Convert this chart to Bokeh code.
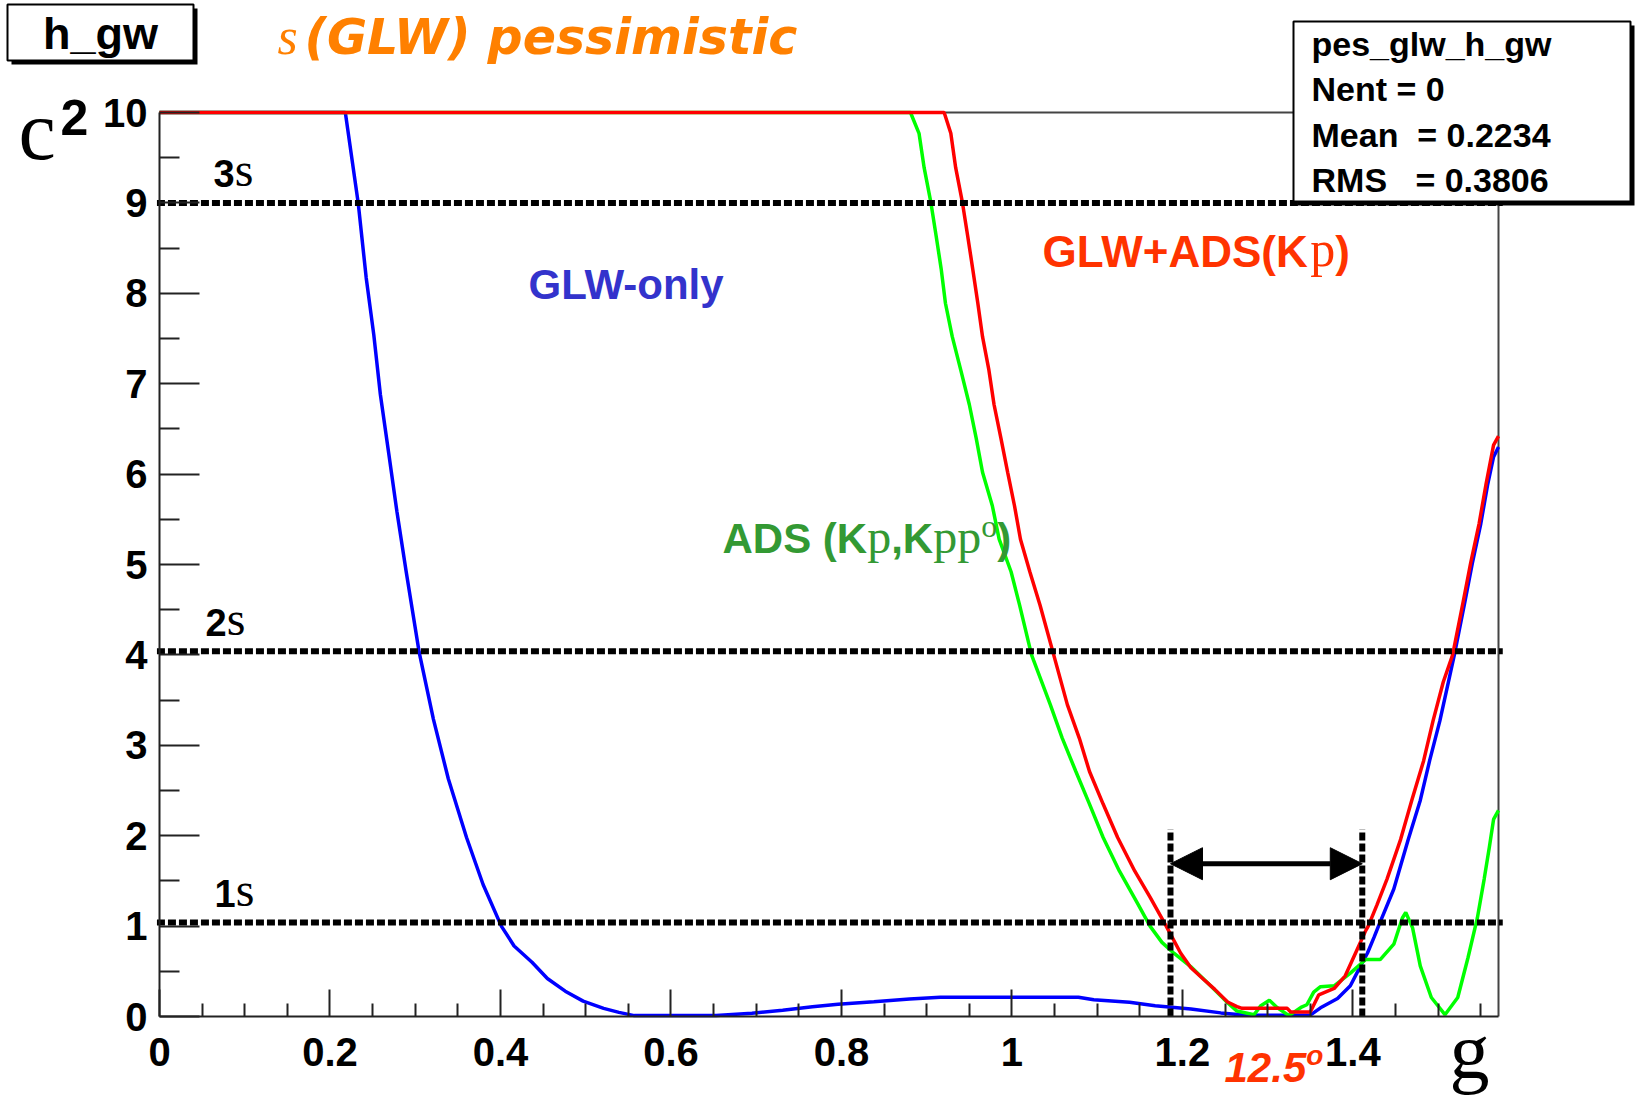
import numpy as np
from bokeh.plotting import figure
from bokeh.models import (Range1d, FixedTicker, CustomJSTickFormatter, Label,
                          BoxAnnotation, Arrow, NormalHead, LinearAxis)
from bokeh.embed import file_html
from bokeh.resources import INLINE

# ---------------- data ----------------
x_ticks = [0, 0.2, 0.4, 0.6, 0.8, 1.0, 1.2, 1.4]
y_ticks = [0, 1, 2, 3, 4, 5, 6, 7, 8, 9, 10]
x_max = np.pi / 2
y_max = 10

glw_only_x = [0, 0.218, 0.2331, 0.2425, 0.2514, 0.2591, 0.2689, 0.2786, 0.2894, 0.3046,
              0.3213, 0.3388, 0.3602, 0.3796, 0.401, 0.416, 0.437, 0.455, 0.476, 0.497,
              0.521, 0.539, 0.557, 0.653, 0.695, 0.731, 0.766, 0.796, 0.838, 0.880,
              0.916, 1.078, 1.096, 1.138, 1.168, 1.21, 1.245, 1.275, 1.35, 1.362,
              1.382, 1.397, 1.409, 1.417, 1.425, 1.430, 1.448, 1.465, 1.479, 1.490,
              1.502, 1.512, 1.519, 1.531, 1.540, 1.550, 1.558, 1.565, 1.5708]
glw_only_y = [10, 10, 9.0, 8.17, 7.54, 6.88, 6.23, 5.58, 4.92, 4.03,
              3.29, 2.63, 1.98, 1.46, 1.0, 0.78, 0.6, 0.42, 0.28, 0.17,
              0.09, 0.046, 0.01, 0.01, 0.036, 0.07, 0.107, 0.136, 0.164, 0.193,
              0.214, 0.214, 0.186, 0.157, 0.12, 0.082, 0.04, 0.015, 0.015, 0.096,
              0.2, 0.34, 0.56, 0.7, 0.88, 1.0, 1.41, 1.96, 2.39, 2.83,
              3.27, 3.70, 4.0, 4.57, 5.01, 5.45, 5.88, 6.19, 6.3]

ads_x = [0, 0.881, 0.891, 0.897, 0.905, 0.911, 0.917, 0.922, 0.930, 0.940,
         0.950, 0.958, 0.9655, 0.977, 0.985, 0.999, 1.009, 1.023, 1.045, 1.059,
         1.075, 1.091, 1.107, 1.126, 1.148, 1.162, 1.176, 1.19, 1.21, 1.233,
         1.251, 1.264, 1.284, 1.292, 1.302, 1.311, 1.325, 1.339, 1.346, 1.354,
         1.362, 1.378, 1.397, 1.415, 1.432, 1.448, 1.458, 1.462, 1.47, 1.479,
         1.492, 1.508, 1.523, 1.535, 1.546, 1.554, 1.560, 1.565, 1.5708]
ads_y = [10, 10, 9.77, 9.39, 9.0, 8.64, 8.27, 7.89, 7.52, 7.15,
         6.77, 6.4, 6.02, 5.65, 5.28, 4.92, 4.55, 4.0, 3.45, 3.08,
         2.71, 2.35, 1.98, 1.61, 1.24, 1.0, 0.82, 0.70, 0.55, 0.34,
         0.17, 0.06, 0.02, 0.12, 0.18, 0.1, 0.01, 0.1, 0.13, 0.27,
         0.33, 0.34, 0.48, 0.63, 0.63, 0.8, 1.09, 1.15, 0.98, 0.56,
         0.21, 0.02, 0.21, 0.65, 1.09, 1.52, 1.87, 2.18, 2.28]

comb_x = [0, 0.9205, 0.9283, 0.934, 0.942, 0.948, 0.954, 0.960, 0.9655, 0.973,
          0.979, 0.987, 0.995, 1.003, 1.010, 1.021, 1.033, 1.049, 1.065, 1.079,
          1.091, 1.107, 1.124, 1.144, 1.162, 1.181, 1.198, 1.21, 1.225, 1.238,
          1.253, 1.264, 1.27, 1.323, 1.327, 1.35, 1.36, 1.378, 1.391, 1.403,
          1.415, 1.418, 1.428, 1.440, 1.456, 1.469, 1.483, 1.494, 1.506, 1.517,
          1.529, 1.538, 1.548, 1.556, 1.565, 1.5708]
comb_y = [10, 10, 9.77, 9.39, 9.0, 8.64, 8.27, 7.89, 7.52, 7.15,
          6.77, 6.4, 6.02, 5.65, 5.28, 4.92, 4.55, 4.0, 3.45, 3.08,
          2.71, 2.35, 1.98, 1.61, 1.32, 1.0, 0.70, 0.54, 0.41, 0.3,
          0.16, 0.11, 0.09, 0.09, 0.05, 0.05, 0.24, 0.31, 0.45, 0.70,
          0.95, 1.0, 1.23, 1.52, 1.96, 2.39, 2.83, 3.27, 3.70, 4.0,
          4.57, 5.01, 5.45, 5.88, 6.32, 6.42]

sigma_levels = [1.04, 4.04, 9.0]
sigma_names = ["1", "2", "3"]
interval_x = [1.186, 1.411]
interval_top = 2.07
arrow_y = 1.69
interval_text = "12.5"

NB = "\u00a0"
stats_lines = ["pes_glw_h_gw", "Nent = 0", "Mean" + NB * 2 + "= 0.2234",
               "RMS" + NB * 3 + "= 0.3806"]
hist_name = "h_gw"

# ---------------- layout geometry (picture pixels) ----------------
CW, CH = 1637, 1099
FL, FT, FW, FH = 159.0, 112.0, 1339.0, 904.0
BASE_FIX = 0.35  # em shift of the alphabetic anchor


def dx(X):
    return (X - FL) / FW * x_max


def dy(Y):
    return (FT + FH - Y) / FH * y_max


SANS = {'A': 722, 'D': 722, 'S': 667, 'G': 778, 'L': 611, 'W': 944, 'K': 722,
        '(': 333, ')': 333, ' ': 278, '+': 584, ',': 278, '-': 333, 'o': 611,
        'n': 611, 'l': 278, 'y': 556, '.': 278}
for d in "0123456789":
    SANS[d] = 556
SERIF = {'p': 500, 's': 389, 'o': 500, 'c': 444, 'g': 500}

p = figure(width=CW, height=CH,
           x_range=Range1d(dx(0), dx(CW)), y_range=Range1d(dy(CH), dy(0)),
           x_axis_location=None, y_axis_location=None,
           output_backend="svg", toolbar_location=None, min_border=0,
           background_fill_color="white", border_fill_color="white",
           outline_line_color=None)
p.grid.visible = False
p.title.visible = False

xa = LinearAxis(fixed_location=0, bounds=(0, x_max),
                ticker=FixedTicker(ticks=x_ticks,
                                   minor_ticks=[round(0.05 * i, 2) for i in range(32) if i % 4]),
                formatter=CustomJSTickFormatter(code="return String(Math.round(tick*10)/10);"))
ya = LinearAxis(fixed_location=0, bounds=(0, y_max),
                ticker=FixedTicker(ticks=y_ticks, minor_ticks=[t + 0.5 for t in y_ticks[:-1]]))

for ax, tin, tmin, standoff in ((xa, 27, 13, 21), (ya, 40, 20, 12)):
    ax.major_tick_in = tin
    ax.major_tick_out = 0
    ax.minor_tick_in = tmin
    ax.minor_tick_out = 0
    ax.axis_line_width = 2
    ax.axis_line_color = "#222222"
    ax.major_tick_line_width = 2
    ax.minor_tick_line_width = 2
    ax.major_tick_line_color = "#222222"
    ax.minor_tick_line_color = "#222222"
    ax.major_label_text_font = "Liberation Sans"
    ax.major_label_text_font_style = "bold"
    ax.major_label_text_font_size = "40px"
    ax.major_label_text_color = "black"
    ax.major_label_standoff = standoff
p.add_layout(xa, "below")
p.add_layout(ya, "left")

# frame top / right borders
p.segment(x0=[0, x_max], y0=[y_max, 0], x1=[x_max, x_max], y1=[y_max, y_max],
          line_color="#444444", line_width=2)

# curves
p.line(glw_only_x, glw_only_y, line_color="#0000ff", line_width=3.5)
p.line(ads_x, ads_y, line_color="#00ff00", line_width=3.5)
p.line(comb_x, comb_y, line_color="#ff0000", line_width=3.5)

# sigma levels
p.segment(x0=[-0.003] * len(sigma_levels), y0=sigma_levels,
          x1=[x_max + 0.005] * len(sigma_levels), y1=sigma_levels,
          line_color="black", line_width=6, line_dash="8 3")
# interval
p.segment(x0=interval_x, y0=[0, 0], x1=interval_x, y1=[interval_top] * 2,
          line_color="black", line_width=6, line_dash="8 3")
p.add_layout(Arrow(start=NormalHead(size=32, fill_color="black", line_color="black"),
                   end=NormalHead(size=32, fill_color="black", line_color="black"),
                   x_start=interval_x[0], y_start=arrow_y,
                   x_end=interval_x[1], y_end=arrow_y,
                   line_width=5, line_color="black"))


def width(txt, fam, size):
    table = SERIF if "Serif" in fam else SANS
    return sum(table.get(c, 556) for c in txt) / 1000.0 * size


def label(X, Y, txt, fam, size, style, color, align="left"):
    p.add_layout(Label(x=dx(X), y=dy(Y - BASE_FIX * size), text=txt,
                       text_font=fam, text_font_size=f"{size}px",
                       text_font_style=style, text_color=color,
                       text_align=align, text_baseline="alphabetic"))


def run(X, Y, pieces, color):
    cur = 0.0
    for txt, fam, size, style, rise in pieces:
        label(X + cur, Y - rise, txt, fam, size, style, color)
        cur += width(txt, fam, size)


SB, SR = "Liberation Sans", "Liberation Serif"


def box(l, t, r, b, shadow=4):
    p.add_layout(BoxAnnotation(left=dx(l + shadow), right=dx(r + shadow),
                               top=dy(t + shadow), bottom=dy(b + shadow),
                               fill_color="black", fill_alpha=1.0, line_alpha=0))
    p.add_layout(BoxAnnotation(left=dx(l), right=dx(r), top=dy(t), bottom=dy(b),
                               fill_color="white", fill_alpha=1.0,
                               line_color="black", line_width=2, line_alpha=1.0))


# histogram name box
box(7, 4, 193, 60)
label(100, 49, hist_name, SB, 45, "bold", "black", align="center")

# stats box
box(1293, 21, 1630, 201)
for i, line in enumerate(stats_lines):
    label(1311, 55 + 45.6 * i, line, SB, 34, "bold", "black")

# title
label(277, 54, "s", SR, 52, "italic", "#ff8000")
label(304, 54, "(GLW) pessimistic", "DejaVu Sans", 49, "bold italic", "#ff8000")

# axis titles
label(18, 159, "c", SR, 84, "normal", "black")
label(60, 134, "2", SB, 50, "bold", "black")
label(1449, 1078, "g", SR, 80, "normal", "black")

# sigma labels
for name, X, Y in zip(sigma_names, [214, 205, 213], [906, 635, 186]):
    run(X, Y, [(name, SB, 38, "bold", 0), ("s", SR, 48, "normal", 0)], "black")

# curve labels
run(528, 299, [("GLW-only", SB, 42, "bold", 0)], "#3333cc")
run(1042, 266, [("GLW+ADS(K", SB, 44, "bold", 0), ("p", SR, 50, "normal", 0),
                (")", SB, 44, "bold", 0)], "#ff3300")
run(722, 553, [("ADS (K", SB, 42, "bold", 0), ("p", SR, 48, "normal", 0),
               (",K", SB, 42, "bold", 0), ("pp", SR, 48, "normal", 0),
               ("o", SR, 32, "normal", 16), (")", SB, 42, "bold", 0)], "#339933")

# interval label
run(1224, 1082, [(interval_text, SB, 42, "bold italic", 0),
                 ("o", SB, 28, "bold italic", 17)], "#ff3300")

open("out.html", "w").write(file_html(p, INLINE))
